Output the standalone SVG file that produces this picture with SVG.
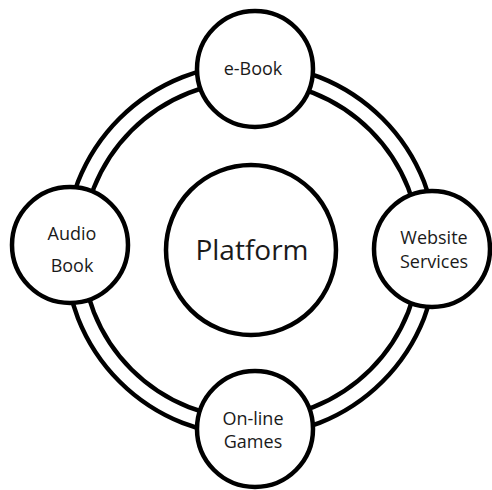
<svg xmlns="http://www.w3.org/2000/svg" width="492" height="490" viewBox="0 0 492 490">
<style>
.ring{fill:none;stroke:#000;stroke-width:4.5}
.node{fill:#fff;stroke:#000;stroke-width:4.5}
.t{font-family:"Open Sans","Noto Sans",sans-serif;font-size:18px;fill:#1a1a1a;text-anchor:middle}
.big{font-size:28px}
</style>
<rect width="492" height="490" fill="#fff"/>
<g id="connectors">
<circle class="ring" cx="251" cy="250" r="186"/>
<circle class="ring" cx="251" cy="250" r="169"/>
</g>
<g id="platform">
<circle class="node" cx="251" cy="250" r="85" stroke-width="4"/>
<text class="t big" x="252" y="260">Platform</text>
</g>
<g id="ebook">
<circle class="node" cx="255" cy="69" r="58"/>
<text class="t" x="253" y="75">e-Book</text>
</g>
<g id="website">
<circle class="node" cx="432" cy="249" r="58"/>
<text class="t" x="434" y="244">Website</text>
<text class="t" x="434" y="268">Services</text>
</g>
<g id="games">
<circle class="node" cx="255" cy="429" r="58"/>
<text class="t" x="253" y="425">On-line</text>
<text class="t" x="253" y="448">Games</text>
</g>
<g id="audiobook">
<circle class="node" cx="70" cy="245" r="58"/>
<text class="t" x="72" y="240">Audio</text>
<text class="t" x="72" y="272">Book</text>
</g>
</svg>
